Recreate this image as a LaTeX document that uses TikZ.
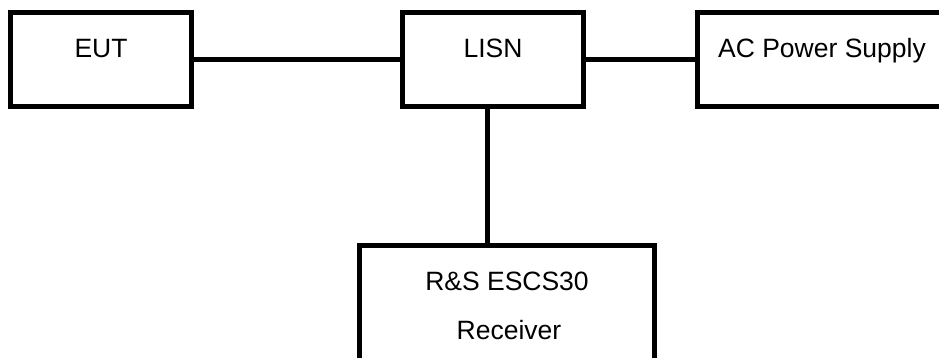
\documentclass[tikz,border=0pt]{standalone}
\usepackage{fontspec}
\setmainfont{Liberation Sans}
\begin{document}
\begin{tikzpicture}[x=1pt,y=-1pt,
  box/.style={draw=black,line width=5pt,rectangle,inner sep=0pt,fill=none},
  lbl/.style={anchor=base,inner sep=0pt,font=\fontsize{26.5}{32}\selectfont},
  wire/.style={draw=black,line width=5pt}]
\useasboundingbox (0,0) rectangle (939,357);
\clip (0,0) rectangle (939,357);
\node[box,minimum width=181pt,minimum height=94pt] (eut) at (101,59.5) {};
\node[box,minimum width=181pt,minimum height=94pt] (lisn) at (492.5,59.5) {};
\node[box,minimum width=249.5pt,minimum height=94pt] (ac) at (822.25,59.5) {};
\node[box,minimum width=295pt,minimum height=139.5pt] (recv) at (507,315.25) {};
\node[lbl] (eutt) at (101,57) {EUT};
\node[lbl] (lisnt) at (493,57) {LISN};
\node[lbl] (act) at (822,57) {AC Power Supply};
\node[lbl] (recvt1) at (507,290.5) {R\&S ESCS30};
\node[lbl] (recvt2) at (509,339) {Receiver};
\draw[wire] (eut.east) -- (lisn.west);
\draw[wire] (lisn.east) -- (ac.west);
\coordinate (tap) at ([xshift=-5.5pt]lisn.south);
\draw[wire] (tap) -- (tap |- recv.north);
\end{tikzpicture}
\end{document}
